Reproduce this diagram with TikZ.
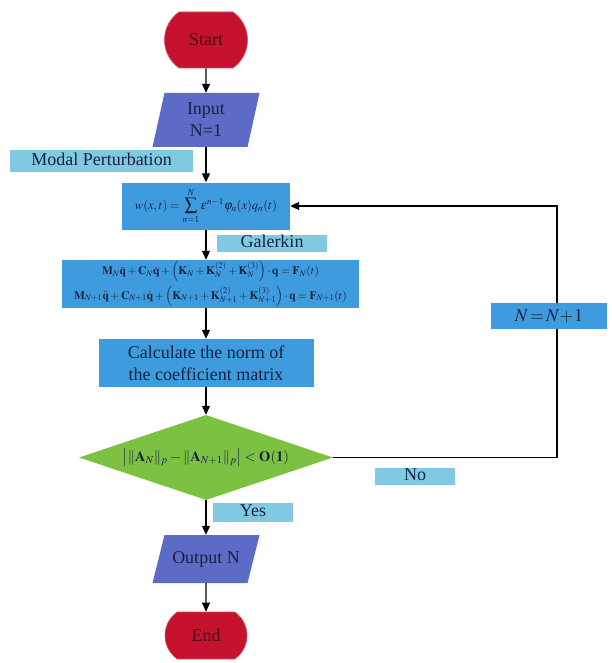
\documentclass[tikz,border=0pt]{standalone}
\usepackage{amsmath}
\usepackage{mathptmx}
\usepackage[no-math]{fontspec}
\setmainfont{Liberation Serif}
\usetikzlibrary{shapes.geometric,shapes.misc,arrows.meta}
\definecolor{termred}{HTML}{C4122F}
\definecolor{termborder}{HTML}{D84A60}
\definecolor{termtext}{HTML}{4A0A12}
\definecolor{iofill}{HTML}{5B6BC6}
\definecolor{procblue}{HTML}{3D9BDE}
\definecolor{lblcyan}{HTML}{7FCAE2}
\definecolor{decgreen}{HTML}{7CC142}
\definecolor{navy}{HTML}{16223F}
\begin{document}
\begin{tikzpicture}[x=1pt,y=-1pt,
  base/.style={inner sep=0pt, align=center, font=\fontsize{18}{22}\selectfont, text=navy},
  term/.style={base, rounded rectangle, rounded rectangle arc length=110, fill=termred, draw=termborder, line width=0.6pt, minimum width=83pt, minimum height=56pt, text=termtext},
  iobox/.style={base, rectangle, minimum width=107pt, minimum height=54pt,
    path picture={\fill[iofill] ([xshift=12pt]path picture bounding box.north west) -- (path picture bounding box.north east) -- ([xshift=-12pt]path picture bounding box.south east) -- (path picture bounding box.south west) -- cycle;}},
  proc/.style={base, rectangle, fill=procblue},
  lbl/.style={base, rectangle, fill=lblcyan, text height=12pt, text depth=4pt},
  dec/.style={base, diamond, fill=decgreen, aspect=3, minimum width=254pt, minimum height=85pt},
  arr/.style={-{Triangle[length=9pt,width=8pt]}, line width=1.1pt, black}
]
\useasboundingbox[fill=white] (0,0) rectangle (612,663);

\node[term] (start) at (206,40) {Start};
\node[iobox] (in) at (206,120) {Input\\N=1};
\node[lbl, minimum width=183pt, minimum height=22pt] (modal) at (101.5,161) {Modal Perturbation};
\node[proc, minimum width=168pt, minimum height=47pt, font=\fontsize{12.5}{15}\selectfont] (w) at (206,206)
  {$w(x,t)=\displaystyle\sum_{n=1}^{N}\varepsilon^{n-1}\varphi_n(x)q_n(t)$};
\node[lbl, minimum width=110pt, minimum height=17pt] (gal) at (272,243.5) {Galerkin};
\node[proc, minimum width=297pt, minimum height=48pt, font=\fontsize{11.5}{19}\selectfont] (eq) at (210.5,284)
  {$\mathbf{M}_N\ddot{\mathbf{q}}+\mathbf{C}_N\dot{\mathbf{q}}+\left(\mathbf{K}_N+\mathbf{K}_N^{(2)}+\mathbf{K}_N^{(3)}\right)\cdot\mathbf{q}=\mathbf{F}_N(t)$\\[3pt]
   $\mathbf{M}_{N+1}\ddot{\mathbf{q}}+\mathbf{C}_{N+1}\dot{\mathbf{q}}+\left(\mathbf{K}_{N+1}+\mathbf{K}_{N+1}^{(2)}+\mathbf{K}_{N+1}^{(3)}\right)\cdot\mathbf{q}=\mathbf{F}_{N+1}(t)$};
\node[proc, minimum width=215pt, minimum height=48pt] (norm) at (206,363) {Calculate the norm of\\the coefficient matrix};
\node[dec, font=\fontsize{14.5}{17}\selectfont] (dia) at (206,457.5)
  {$\bigl|\|\mathbf{A}_N\|_p-\|\mathbf{A}_{N+1}\|_p\bigr|<\mathbf{O(1)}$};
\node[lbl, minimum width=80pt, minimum height=19pt] (yes) at (253,512.5) {Yes};
\node[lbl, minimum width=80pt, minimum height=17pt] (no) at (415,476.5) {No};
\node[iobox, minimum height=48pt] (out) at (206,559) {Output N};
\node[term, minimum width=82pt, minimum height=47pt] (end) at (206,635.5) {End};

\coordinate (eqtop) at (w.south |- eq.north);
\coordinate (eqbot) at (w.south |- eq.south);
\draw[arr] (start) -- (in);
\draw[arr] (in) -- (w);
\draw[arr] (w) -- (eqtop);
\draw[arr] (eqbot) -- (norm);
\draw[arr] (norm) -- (dia);
\draw[arr] (dia) -- (out);
\draw[arr] (out) -- (end);

\coordinate (fb) at (557,457.5);
\draw[arr] (dia.east) -- (fb) |- (w.east);
\node[proc, minimum width=116pt, minimum height=26pt, font=\fontsize{18}{22}\selectfont] (inc) at (549,316) {$N\!=\!N\!+\!1$};
\end{tikzpicture}
\end{document}
